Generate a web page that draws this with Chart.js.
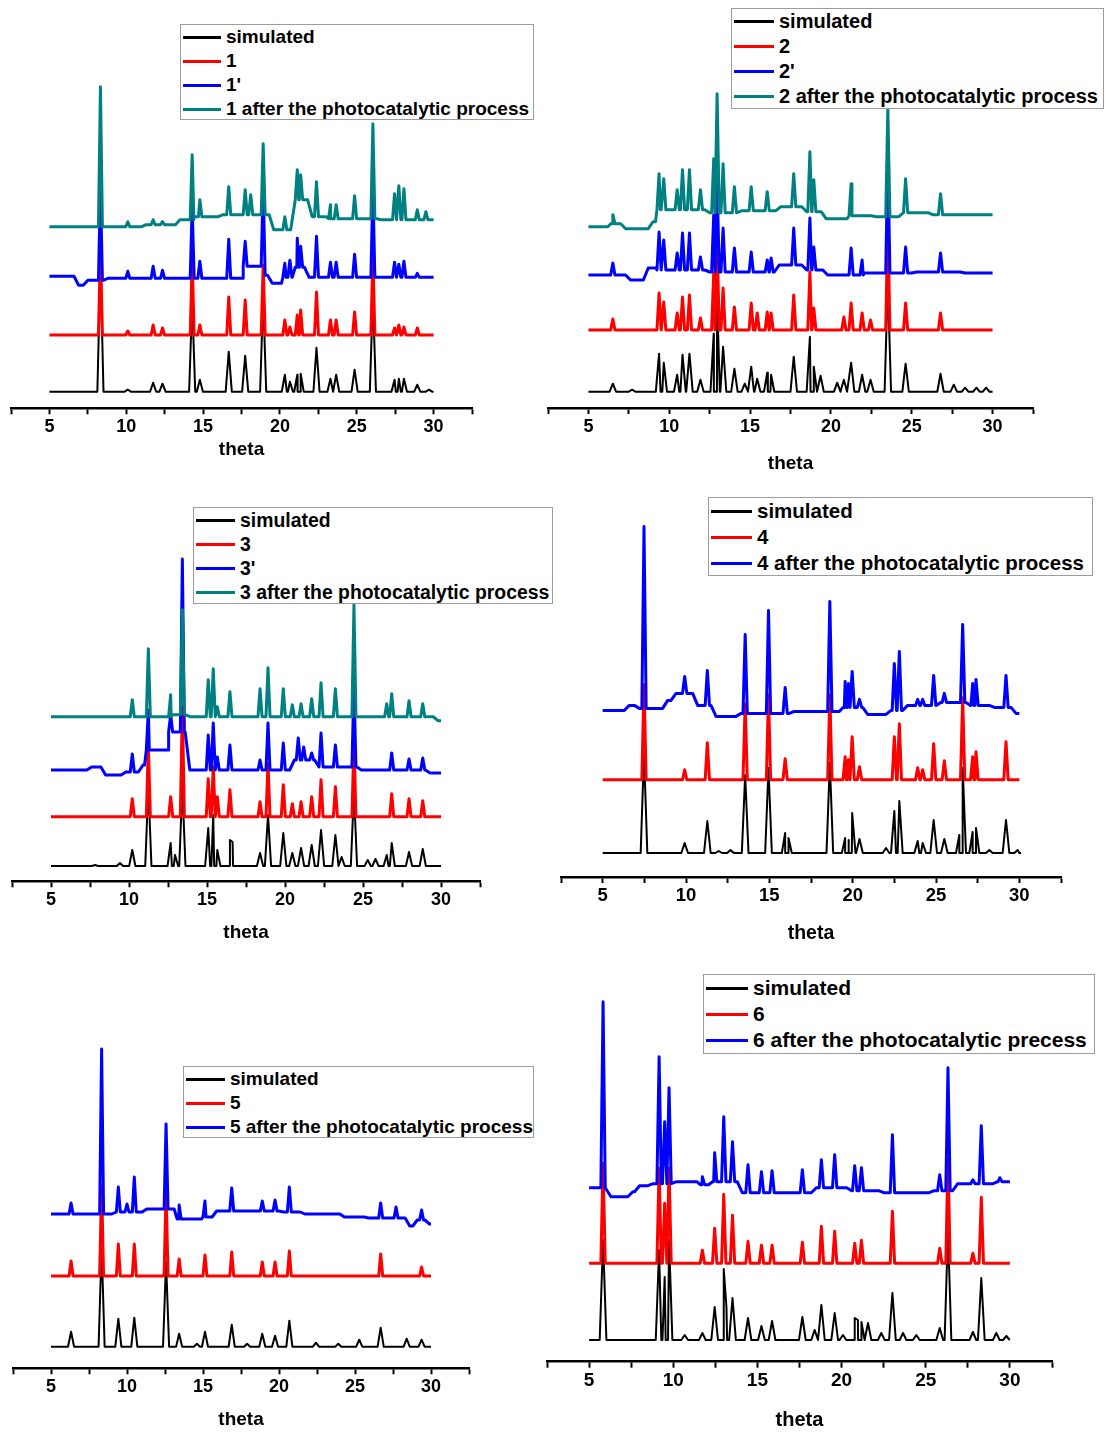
<!DOCTYPE html>
<html>
<head>
<meta charset="utf-8">
<script src="https://cdn.jsdelivr.net/npm/chart.js@4.4.1/dist/chart.umd.min.js"></script>
<style>
  body { margin: 0; background: #fff; width: 1105px; height: 1439px; position: relative; overflow: hidden;
         font-family: "Liberation Sans", Arial, sans-serif; }
  canvas { position: absolute; }
  .legend { position: absolute; box-sizing: border-box; border: 1px solid #9c9c9c; background: #fff;
            font-weight: bold; color: #000; padding-left: 2px; }
  .legend .row { display: flex; align-items: center; white-space: nowrap; }
  .legend .swatch { display: inline-block; height: 0; border-top: 3px solid; margin-right: 5px; }
</style>
</head>
<body>
<script>
// x axis: major ticks every 5, minor halfway between
const thetaTicks = [2.5, 5, 7.5, 10, 12.5, 15, 17.5, 20, 22.5, 25, 27.5, 30, 32.5];

// colours used by every panel
const black = '#000000', red = '#ff0000', blue = '#0000ff', teal = '#008080';

// ---- panel 1 : peaks as [2theta, intensity], steps as [2theta, background level]
const sim1 = [[8.32,130],[10.1,2],[11.75,9],[12.36,8],[14.29,90],[14.79,12],[16.67,40],[17.74,36],[18.91,95],[20.32,17],[20.65,10],[21.13,17],[21.35,18],[22.38,44],[23.29,13],[23.66,17],[24.86,22],[26.05,95],[27.46,12],[27.74,13],[28.07,13],[28.94,7],[29.7,2]];
const exp1 = [[8.32,85],[10.1,4],[11.75,10],[12.36,7],[14.29,75],[14.79,10],[16.67,38],[17.74,35],[18.91,70],[20.32,15],[20.65,8],[21.13,20],[21.35,25],[22.38,43],[23.29,15],[23.66,15],[24.86,23],[26.05,80],[27.46,7],[27.74,10],[28.07,8],[28.94,7]];
const prime1 = [[8.32,90],[10.1,6],[11.75,11],[12.36,7],[14.29,70],[14.79,16],[16.67,38],[17.74,36],[18.91,90],[20.32,14],[20.65,17],[21.13,39],[21.35,31],[22.38,41],[23.29,15],[23.66,15],[24.86,23],[26.05,90],[27.46,15],[27.74,13],[28.07,16],[28.94,4]];
const after1 = [[8.32,140],[10.1,5],[11.75,7],[12.36,5],[14.29,72],[14.79,27],[16.67,40],[17.74,37],[18.1,32],[18.91,83],[20.32,10],[21.13,57],[21.35,52],[22.38,45],[23.29,22],[23.66,22],[24.86,31],[26.05,103],[27.46,33],[27.74,41],[28.07,38],[28.94,17],[29.5,15]];
const prime1Steps = [[5,1],[6.6,-8],[7.2,-3],[8.5,-1],[17.6,11],[18.8,2],[19.2,-6],[20.1,0],[20.8,10],[21.6,0]];
const after1Steps = [[5,0],[11,2],[13.2,7],[14.4,10],[16,12],[19.3,-3],[20.7,27],[21.8,10],[23,8],[26.3,7]];
const offsets1 = [0, 56.7, 114.4, 165];

// ---- panel 2
const sim2 = [[6.51,8],[7.7,2],[9.37,38],[9.66,29],[10.49,17],[10.82,37],[11.25,38],[11.93,12],[12.75,58],[12.96,95],[13.33,45],[14.03,23],[14.67,8],[15.07,25],[15.44,13],[16.06,19],[16.3,17],[17.7,35],[18.7,55],[18.94,25],[19.36,16],[20.39,9],[20.8,12],[21.25,29],[21.93,17],[22.45,12],[23.52,110],[24.62,28],[26.78,18],[27.6,7],[28.3,4],[29,4],[29.6,4]];
const exp2 = [[6.51,11],[9.37,37],[9.66,28],[10.49,17],[10.82,33],[11.25,35],[11.93,12],[12.75,57],[12.96,90],[13.33,42],[14.03,23],[15.07,27],[15.44,17],[16.06,18],[16.3,17],[17.7,35],[18.7,58],[18.94,22],[20.8,13],[21.25,27],[21.93,17],[22.45,10],[23.52,110],[24.62,27],[26.78,17]];
const prime2 = [[6.51,12],[9.37,43],[9.66,35],[10.49,22],[10.82,42],[11.25,42],[11.93,18],[12.75,60],[12.96,95],[13.33,47],[14.03,27],[15.07,23],[16.06,15],[16.3,17],[17.7,47],[18.7,57],[18.94,28],[21.25,27],[21.93,15],[23.52,120],[24.62,28],[26.78,22]];
const after2 = [[6.51,12],[9.37,53],[9.66,48],[10.49,37],[10.82,57],[11.25,57],[11.93,37],[12.75,68],[12.96,133],[13.33,63],[14.03,40],[15.07,40],[16.06,35],[17.7,53],[18.7,75],[18.94,47],[21.25,43],[23.52,118],[24.62,48],[26.78,33]];
const prime2Steps = [[5,0],[7.3,-5],[8.4,7],[9.2,5],[12.2,3],[16.5,10],[18.2,5],[19.5,0],[22,2],[25,3],[28,2]];
const after2Steps = [[5,0],[6.2,3],[7,-2],[8.7,5],[9.15,17],[12.2,14],[14.2,16],[16.6,20],[18.2,15],[19.4,8],[21,11],[22.5,10],[24.2,14],[26,12]];
const offsets2 = [0, 61.7, 116.7, 165];

// ---- panel 3
const sim3 = [[7.82,1],[9.42,3],[10.21,16],[11.24,80],[12.67,23],[12.95,11],[13.42,80],[15.08,38],[15.4,51],[15.66,16],[16.47,26],[16.64,24],[18.4,13],[18.91,51],[19.89,33],[20.47,13],[21.03,18],[21.71,21],[22.31,36],[23.23,31],[23.63,9],[24.42,75],[25.3,6],[25.8,7],[26.52,11],[26.84,23],[27.95,14],[28.83,17]];
const exp3 = [[10.21,18],[11.24,72],[12.67,20],[13.42,110],[15.08,38],[15.4,50],[15.66,20],[16.47,27],[18.4,15],[18.91,53],[19.89,32],[20.47,13],[21.03,15],[21.71,20],[22.31,37],[23.23,30],[24.42,75],[26.84,23],[27.95,18],[28.83,16]];
const prime3 = [[10.21,16],[11.24,60],[12.67,55],[13.42,211],[15.08,35],[15.4,47],[15.66,13],[16.47,25],[18.4,10],[18.91,47],[19.89,27],[20.85,32],[21.2,23],[21.71,17],[22.31,37],[23.23,25],[24.42,85],[26.84,17],[27.95,11],[28.83,12]];
const after3 = [[10.21,17],[11.24,68],[12.67,22],[13.42,107],[15.08,37],[15.4,48],[15.66,10],[16.47,25],[18.4,28],[18.91,49],[19.89,28],[20.47,12],[21.03,13],[21.71,18],[22.31,34],[23.23,28],[24.42,112],[26.52,13],[26.84,23],[27.95,16],[28.83,13]];
const prime3Steps = [[5,0],[7.3,3],[8.2,-5],[9.5,-2],[10.6,5],[11,20],[12.5,38],[13.6,0],[20.3,10],[21.9,3],[24.6,0],[29,-3]];
const after3Steps = [[5,0],[12.7,2],[13.6,0],[29.5,-4]];
const offsets3 = [0, 49.3, 96, 149.3];

// ---- panel 4
const sim4 = [[7.48,100],[9.92,10],[11.28,32],[11.96,2],[12.67,3],[13.55,78],[14.95,85],[15.95,20],[16.15,15],[18.63,90],[19.55,15],[19.75,13],[19.97,40],[20.41,14],[22,5],[22.5,42],[22.8,52],[23.9,12],[24.2,10],[24.86,33],[25.5,14],[26.4,18],[26.6,85],[27.2,21],[27.4,25],[28.2,3],[29.2,33],[29.9,3]];
const exp4 = [[7.48,95],[9.92,10],[11.28,37],[13.55,76],[14.95,85],[15.95,21],[18.63,85],[19.55,23],[19.75,20],[19.97,43],[20.41,13],[22.5,43],[22.8,56],[23.9,12],[24.2,10],[24.86,36],[25.5,19],[26.6,82],[27.2,23],[27.4,28],[29.2,38]];
const after4 = [[7.48,184],[9.92,34],[11.28,40],[13.55,76],[14.95,100],[15.95,23],[18.63,109],[19.55,29],[19.75,27],[19.97,39],[20.41,11],[22.5,47],[22.8,59],[23.9,11],[24.2,11],[24.86,35],[25.5,17],[26.6,86],[27.2,27],[27.4,31],[29.2,35]];
const after4Steps = [[5,0],[6.3,5],[6.9,2],[8.6,10],[9.1,17],[10.4,5],[11.5,-6],[13,-3],[16.2,-1],[19.2,3],[20.6,-4],[22,0],[23,5],[25,8],[26.8,5],[28.2,3],[29.5,-3]];
const offsets4 = [0, 73.3, 142.6];

// ---- panel 5
const sim5 = [[6.32,15],[8.33,100],[9.43,28],[10.48,29],[12.57,85],[13.43,13],[14.6,3],[15.13,15],[16.89,22],[17.9,3],[18.9,13],[19.74,11],[20.68,26],[22.43,4],[23.9,3],[25.28,7],[26.69,19],[28.4,8],[29.38,7]];
const exp5 = [[6.32,15],[8.33,90],[9.43,32],[10.48,32],[12.57,85],[13.43,17],[15.13,21],[16.89,24],[18.9,14],[19.74,14],[20.68,25],[26.69,22],[29.38,9]];
const after5 = [[6.32,11],[8.33,165],[9.43,27],[10,10],[10.48,37],[12.57,90],[13.43,9],[15.13,13],[16.89,26],[18.9,13],[19.74,14],[20.68,27],[26.69,11],[27.7,7],[29.38,4]];
const after5Steps = [[5,0],[9,2],[11,5],[13.1,-5],[14.9,-3],[15.6,3],[20,2],[21.4,0],[24,-3],[25.6,-4],[28.3,-12],[28.8,-6],[29.6,-10]];
const offsets5 = [0, 70.7, 132.7];

// ---- panel 6
const sim6 = [[5.83,100],[9.16,90],[9.49,63],[9.75,100],[10.68,5],[11.73,7],[12.46,33],[13,71],[13.16,33],[13.52,42],[14.44,22],[15.24,14],[15.87,19],[17.67,23],[18.4,10],[18.8,35],[19.59,27],[20.08,5],[20.78,22],[20.97,20],[21.18,18],[21.57,17],[22.36,7],[23.02,47],[23.65,7],[24.44,5],[25.83,12],[26.32,110],[27.8,8],[28.3,62],[29.19,7],[29.79,4]];
const exp6 = [[5.83,100],[9.16,95],[9.49,60],[9.75,95],[11.73,13],[12.46,35],[13,69],[13.52,48],[14.44,22],[15.24,18],[15.87,18],[17.67,21],[18.8,37],[19.59,32],[20.78,20],[21.18,23],[23.02,52],[25.83,15],[26.32,105],[27.8,10],[28.3,66]];
const after6 = [[5.83,186],[9.16,131],[9.49,66],[9.75,100],[11.73,11],[12.46,35],[13,71],[13.52,46],[14.44,23],[15.24,16],[15.87,17],[17.67,18],[18.8,28],[19.59,33],[20.78,22],[21.18,20],[23.02,53],[25.83,13],[26.32,120],[27.8,8],[28.3,62],[29.4,10]];
const after6Steps = [[5,0],[6,-9],[7.3,-4],[7.7,2],[8.5,4],[9.9,6],[11.4,3],[12.1,6],[13.8,-5],[18.2,0],[20.3,-3],[22.2,-5],[25.2,-3],[26.6,4],[29,6]];
const offsets6 = [0, 76.7, 152.3];

// background level at a given angle (piecewise constant)
function levelAt(steps, t) {
    let v = 0;
    steps.forEach(s => { if (t >= s[0]) v = s[1]; });
    return v;
}

// turn a peak list into line points, each peak drawn as a narrow spike
function buildTrace(peaks, offset, steps, halfWidth) {
    steps = steps || [[5, 0]];
    const ramp = 0.3;
    const pts = [{ x: 5, y: offset + levelAt(steps, 5) }];
    for (let i = 1; i < steps.length; i++) {
        pts.push({ x: steps[i][0], y: offset + steps[i - 1][1] });
        pts.push({ x: steps[i][0] + ramp, y: offset + steps[i][1] });
    }
    peaks.forEach(p => {
        pts.push({ x: p[0] - halfWidth, y: offset + levelAt(steps, p[0] - halfWidth) });
        pts.push({ x: p[0], y: offset + p[1] });
        pts.push({ x: p[0] + halfWidth, y: offset + levelAt(steps, p[0] + halfWidth) });
    });
    pts.push({ x: 30, y: offset + levelAt(steps, 30) });
    return pts.sort((a, b) => a.x - b.x);
}

// page geometry of each panel: axis ends, axis height, black baseline, label sizes, legend box
const panels = [
    { left: 10.6, right: 471.7, top: 0, axisY: 408.3, base: 391.7, titleGap: 41.7, tickFont: 18, titleFont: 19,
      series: [[sim1, null, black], [exp1, null, red], [prime1, prime1Steps, blue], [after1, after1Steps, teal]], offsets: offsets1,
      names: ['simulated', '1', "1'", '1 after the photocatalytic process'],
      legend: { x: 180, y: 24, w: 354, h: 96, row: 24, font: 19, swatch: 38 } },
    { left: 547.6, right: 1032.4, top: 0, axisY: 408, base: 391.7, titleGap: 56, tickFont: 18, titleFont: 19,
      series: [[sim2, null, black], [exp2, null, red], [prime2, prime2Steps, blue], [after2, after2Steps, teal]], offsets: offsets2,
      names: ['simulated', '2', "2'", '2 after the photocatalytic process'],
      legend: { x: 731, y: 8, w: 373, h: 101, row: 25, font: 20, swatch: 40 } },
    { left: 12.3, right: 480, top: 480, axisY: 881.3, base: 866, titleGap: 51.7, tickFont: 18, titleFont: 19,
      series: [[sim3, null, black], [exp3, null, red], [prime3, prime3Steps, blue], [after3, after3Steps, teal]], offsets: offsets3,
      names: ['simulated', '3', "3'", '3 after the photocatalytic process'],
      legend: { x: 193, y: 507, w: 360, h: 97, row: 24, font: 19.4, swatch: 39 } },
    { left: 561.3, right: 1061.7, top: 480, axisY: 877, base: 853, titleGap: 57, tickFont: 18.5, titleFont: 19.5,
      series: [[sim4, null, black], [exp4, null, red], [after4, after4Steps, blue]], offsets: offsets4,
      names: ['simulated', '4', '4 after the photocatalytic process'],
      legend: { x: 708, y: 497, w: 385, h: 79, row: 26, font: 20.5, swatch: 41 } },
    { left: 13.3, right: 469.3, top: 960, axisY: 1368.3, base: 1346.7, titleGap: 51.7, tickFont: 18, titleFont: 19,
      series: [[sim5, null, black], [exp5, null, red], [after5, after5Steps, blue]], offsets: offsets5,
      names: ['simulated', '5', '5 after the photocatalytic process'],
      legend: { x: 183, y: 1066, w: 351, h: 72, row: 24, font: 19, swatch: 39 } },
    { left: 547.2, right: 1052.1, top: 960, axisY: 1361.7, base: 1340, titleGap: 58.3, tickFont: 19, titleFont: 20,
      series: [[sim6, null, black], [exp6, null, red], [after6, after6Steps, blue]], offsets: offsets6,
      names: ['simulated', '6', '6 after the photocatalytic precess'],
      legend: { x: 703, y: 974, w: 392, h: 80, row: 26, font: 21, swatch: 42 } }
];

const fontFamily = '"Liberation Sans", Arial, sans-serif';
const sidePad = 4;

function drawPanel(p) {
    const axisBlock = p.titleGap + 16;
    const canvas = document.createElement('canvas');
    canvas.width = Math.round(p.right - p.left + 2 * sidePad);
    canvas.height = Math.round(p.axisY - p.top + axisBlock);
    canvas.style.left = (p.left - sidePad) + 'px';
    canvas.style.top = p.top + 'px';
    document.body.appendChild(canvas);

    const n = p.series.length;
    const datasets = p.series.map((s, i) => ({
        label: p.names[i],
        data: buildTrace(s[0], p.offsets[i], s[1], i === 0 ? 0.2 : 0.13),
        borderColor: s[2],
        borderWidth: i === 0 ? 2 : 3,
        borderJoinStyle: 'round',
        pointRadius: 0,
        tension: 0,
        fill: false,
        order: n - 1 - i   // later series drawn on top
    }));

    const yMin = -(p.axisY - p.base);
    new Chart(canvas.getContext('2d'), {
        type: 'line',
        data: { datasets },
        options: {
            responsive: false,
            animation: false,
            events: [],
            layout: { padding: { left: sidePad, right: sidePad, top: 0, bottom: 0 } },
            plugins: { legend: { display: false }, tooltip: { enabled: false } },
            scales: {
                x: {
                    type: 'linear', min: 2.5, max: 32.5,
                    afterBuildTicks: sc => { sc.ticks = thetaTicks.map(v => ({ value: v })); },
                    afterFit: sc => { sc.height = axisBlock; sc.paddingLeft = 0; sc.paddingRight = 0; },
                    ticks: {
                        autoSkip: false, maxRotation: 0, padding: 2, color: '#000',
                        font: { family: fontFamily, size: p.tickFont, weight: 'bold' },
                        callback: v => (v % 5 === 0 ? v : '')
                    },
                    grid: { display: true, drawOnChartArea: false, drawTicks: true, tickLength: 6, tickWidth: 2, tickColor: '#000' },
                    border: { display: true, color: '#000', width: 2.5 },
                    title: {
                        display: true, text: 'theta', color: '#000',
                        font: { family: fontFamily, size: p.titleFont, weight: 'bold' },
                        padding: { top: 0, bottom: 16 - p.titleFont * 0.6 }
                    }
                },
                y: { display: false, min: yMin, max: yMin + (p.axisY - p.top) }
            }
        }
    });

    // legend box
    const lg = p.legend;
    const box = document.createElement('div');
    box.className = 'legend';
    Object.assign(box.style, { left: lg.x + 'px', top: lg.y + 'px', width: lg.w + 'px', height: lg.h + 'px',
        fontSize: lg.font + 'px', paddingTop: Math.round((lg.h - 2 - lg.row * n) / 2) + 'px' });
    p.names.forEach((name, i) => {
        const row = document.createElement('div');
        row.className = 'row';
        row.style.height = lg.row + 'px';
        const sw = document.createElement('span');
        sw.className = 'swatch';
        sw.style.width = lg.swatch + 'px';
        sw.style.borderTopColor = p.series[i][2];
        const txt = document.createElement('span');
        txt.textContent = name;
        row.appendChild(sw);
        row.appendChild(txt);
        box.appendChild(row);
    });
    document.body.appendChild(box);
}

panels.forEach(drawPanel);
</script>
</body>
</html>
